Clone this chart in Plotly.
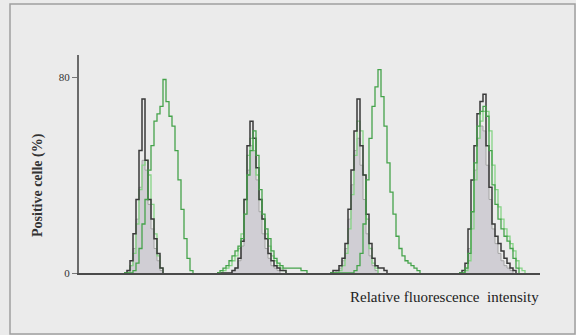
import plotly.graph_objects as go

# Histogram data: counts per channel bin (bin width 3 channels)
BIN = 3
group_starts = [45, 138, 251, 380]

control = [
    [0, 1, 3, 10, 22, 35, 46, 42, 28, 18, 10, 5, 1, 0],
    [0, 0, 0, 0, 0, 1, 2, 5, 11, 24, 42, 52, 50, 38, 25, 16, 10, 6, 3, 2, 1, 0],
    [0, 0, 1, 2, 5, 10, 22, 36, 50, 55, 44, 30, 16, 7, 3, 1, 0],
    [0, 0, 2, 10, 25, 42, 55, 60, 58, 44, 30, 18, 12, 8, 5, 3, 2, 1, 0],
]
sample_black = [
    [0, 1, 5, 16, 30, 50, 71, 46, 30, 22, 14, 8, 2, 0],
    [0, 0, 0, 0, 0, 1, 2, 6, 13, 30, 52, 62, 55, 43, 30, 22, 14, 8, 5, 3, 2, 1, 1, 0],
    [0, 1, 1, 3, 6, 12, 26, 42, 58, 71, 52, 40, 24, 12, 6, 3, 2, 2, 1, 0],
    [0, 1, 4, 18, 38, 52, 65, 70, 73, 52, 35, 20, 15, 12, 9, 6, 4, 2, 1, 0],
]
sample_green_light = [
    [0, 0, 3, 8, 20, 34, 44, 46, 40, 28, 16, 7, 2, 0],
    [0, 0, 1, 2, 3, 5, 7, 10, 16, 30, 48, 55, 50, 40, 30, 22, 16, 11, 7, 5, 3, 2, 1, 0],
    [0, 0, 0, 1, 3, 8, 18, 32, 48, 62, 58, 40, 22, 10, 4, 2, 0],
    [0, 0, 1, 5, 18, 38, 55, 62, 66, 66, 58, 44, 34, 27, 22, 18, 15, 12, 9, 5, 2, 1, 0],
]
sample_green_dark = [
    [0, 0, 0, 1, 4, 10, 20, 30, 42, 52, 62, 65, 68, 79, 70, 64, 60, 50, 38, 26, 14, 6, 1, 0],
    [0, 1, 2, 3, 5, 7, 9, 11, 14, 24, 40, 50, 58, 48, 34, 24, 18, 14, 9, 6, 4, 3, 2, 2, 2, 2, 2, 2, 1, 1, 0],
    [0, 0, 0, 0, 0, 0, 0, 0, 1, 3, 8, 20, 38, 55, 68, 76, 83, 72, 60, 45, 33, 24, 15, 10, 7, 5, 4, 3, 2, 1, 0],
    [0, 0, 2, 8, 25, 45, 60, 66, 68, 64, 50, 36, 28, 22, 18, 15, 13, 10, 6, 2, 0],
]

y_ticks = [0, 80]
y_tick_labels = ["0", "80"]

W, H = 576, 335
ML, MR, MT, MB = 79, 36, 55, 62

fig = go.Figure()


def xs(start, n):
    return [start + BIN * i for i in range(n)]


for g, start in enumerate(group_starts):
    c = control[g]
    fig.add_trace(go.Scatter(x=xs(start, len(c)), y=c, mode="lines", line_shape="hv",
                             fill="tozeroy", fillcolor="rgb(208,206,212)",
                             line=dict(color="#a5a5a5", width=1), hoverinfo="skip"))
for g, start in enumerate(group_starts):
    s = sample_green_light[g]
    fig.add_trace(go.Scatter(x=xs(start, len(s)), y=s, mode="lines", line_shape="hv",
                             line=dict(color="#86d486", width=1.3), hoverinfo="skip"))
    s = sample_black[g]
    fig.add_trace(go.Scatter(x=xs(start, len(s)), y=s, mode="lines", line_shape="hv",
                             line=dict(color="#3a3a3a", width=1.5), hoverinfo="skip"))
    s = sample_green_dark[g]
    fig.add_trace(go.Scatter(x=xs(start, len(s)), y=s, mode="lines", line_shape="hv",
                             line=dict(color="#45a34b", width=1.3), hoverinfo="skip"))

font = "Liberation Serif, Times New Roman, serif"
fig.update_layout(
    width=W, height=H,
    margin=dict(l=ML, r=MR, t=MT, b=MB),
    paper_bgcolor="#ebebeb", plot_bgcolor="#ebebeb",
    showlegend=False,
    xaxis=dict(range=[0, 461], showgrid=False, zeroline=False, showticklabels=False,
               ticks="", showline=True, linecolor="#4a4a4a", linewidth=2),
    yaxis=dict(range=[0, 89], showgrid=False, zeroline=False, tickvals=y_ticks,
               ticktext=y_tick_labels, ticks="outside", ticklen=5, tickcolor="#777",
               tickfont=dict(family=font, size=11, color="#333"),
               showline=True, linecolor="#6a6a6a", linewidth=2),
    font=dict(family=font),
    shapes=[dict(type="rect", xref="paper", yref="paper",
                 x0=(10 - ML) / (W - ML - MR), x1=(575 - ML) / (W - ML - MR),
                 y0=-(334 - (H - MB)) / (H - MT - MB), y1=(H - MB - 4) / (H - MT - MB),
                 line=dict(color="#a0a0a0", width=1.5))],
    annotations=[
        dict(text="<b>Positive celle (%)</b>", textangle=-90, xref="paper", yref="paper",
             x=(38 - ML) / (W - ML - MR), y=(H - MB - 185) / (H - MT - MB),
             showarrow=False, font=dict(family=font, size=14, color="#333"),
             xanchor="center", yanchor="middle"),
        dict(text="Relative fluorescence  intensity",
             xref="paper", yref="paper",
             x=(444 - ML) / (W - ML - MR), y=-(297 - (H - MB)) / (H - MT - MB),
             showarrow=False, font=dict(family=font, size=15, color="#222"),
             xanchor="center", yanchor="middle"),
    ],
)
fig.write_html("out.html", config={"displayModeBar": False},
               post_script="document.body.style.margin='0';")
